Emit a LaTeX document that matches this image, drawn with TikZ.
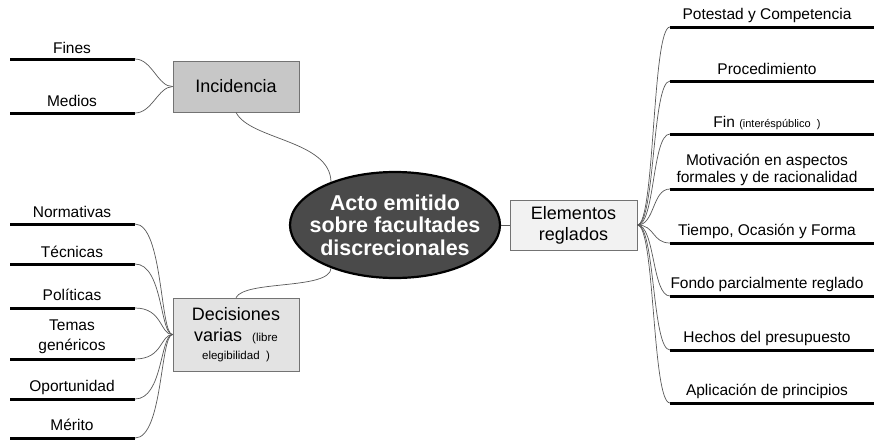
\documentclass[tikz,border=0pt]{standalone}
\usepackage{fontspec}
\setmainfont{Liberation Sans}
\usetikzlibrary{shapes.geometric}
\begin{document}
\begin{tikzpicture}[x=1pt,y=-1pt,
  leaf/.style={font=\fontsize{15.5}{18}\selectfont, anchor=base, inner sep=0pt, align=center},
  bar/.style={line width=3pt, black},
  conn/.style={draw=black!65, line width=0.7pt},
  box/.style={draw=black!55, line width=0.8pt, font=\fontsize{18}{21}\selectfont, align=center, inner sep=0pt},
]
\useasboundingbox (0,0) rectangle (874,442);
\fill[white] (0,0) rectangle (874,442);

% central ellipse
\node[ellipse, draw=black, line width=2.2pt, fill=black!71, text=white,
  minimum width=210pt, minimum height=106pt, inner xsep=-25pt, inner ysep=0pt, align=center,
  font=\bfseries\fontsize{21.5}{22.5}\selectfont] (c) at (395,225)
  {Acto emitido\\sobre facultades\\discrecionales};

% boxes
\node[box, fill=black!22, minimum width=126pt, minimum height=51pt] (inc) at (236,86.5) {Incidencia};
\node[box, fill=black!11, minimum width=126pt, minimum height=73pt] (dec) at (236,334.5)
  {Decisiones\\varias\ \ {\fontsize{11.5}{12}\selectfont (libre}\\[-3pt]{\fontsize{11.5}{12}\selectfont elegibilidad~~)}};
\node[box, fill=black!5, minimum width=127pt, minimum height=50pt] (elem) at (573.5,225) {Elementos\\reglados};

% left leaves (Incidencia)
\node[leaf] (fines) at (72,53) {Fines};
\node[leaf] (medios) at (72,106) {Medios};
\coordinate (finesL) at (10,59);  \coordinate (finesR) at (135,59);
\coordinate (mediosL) at (10,113); \coordinate (mediosR) at (135,113);

% left leaves (Decisiones)
\node[leaf] (norm) at (72,217) {Normativas};
\node[leaf] (tec) at (72,257) {Técnicas};
\node[leaf] (pol) at (72,300) {Políticas};
\node[leaf, font=\fontsize{15.5}{20}\selectfont] (temas) at (72,350) {Temas\\genéricos};
\node[leaf] (opor) at (72,391) {Oportunidad};
\node[leaf] (mer) at (72,430) {Mérito};
\coordinate (normL) at (10,224); \coordinate (normR) at (135,224);
\coordinate (tecL) at (10,264);  \coordinate (tecR) at (135,264);
\coordinate (polL) at (10,308);  \coordinate (polR) at (135,308);
\coordinate (temasL) at (10,359); \coordinate (temasR) at (135,359);
\coordinate (oporL) at (10,399); \coordinate (oporR) at (135,399);
\coordinate (merL) at (10,438);  \coordinate (merR) at (135,438);

% right leaves
\node[leaf] (pot) at (767,19) {Potestad y Competencia};
\node[leaf] (proc) at (767,74) {Procedimiento};
\node[leaf] (fin) at (767,127) {Fin {\fontsize{11}{12}\selectfont (interéspúblico~~)}};
\node[leaf, font=\fontsize{15.5}{16.5}\selectfont] (mot) at (767,182) {Motivación en aspectos\\formales y de racionalidad};
\node[leaf] (tie) at (767,235) {Tiempo,\ Ocasión y Forma};
\node[leaf] (fon) at (767,288) {Fondo parcialmente reglado};
\node[leaf] (hec) at (767,342) {Hechos del presupuesto};
\node[leaf] (apl) at (767,395) {Aplicación de principios};
\coordinate (potL) at (670,27);  \coordinate (potR) at (874,27);
\coordinate (procL) at (670,81); \coordinate (procR) at (874,81);
\coordinate (finL) at (670,134); \coordinate (finR) at (874,134);
\coordinate (motL) at (670,189); \coordinate (motR) at (874,189);
\coordinate (tieL) at (670,243); \coordinate (tieR) at (874,243);
\coordinate (fonL) at (670,296); \coordinate (fonR) at (874,296);
\coordinate (hecL) at (670,350); \coordinate (hecR) at (874,350);
\coordinate (aplL) at (670,403); \coordinate (aplR) at (874,403);

% bars
\foreach \n in {fines,medios,norm,tec,pol,temas,opor,mer,pot,proc,fin,mot,tie,fon,hec,apl}
  \draw[bar] (\n L) -- (\n R);

% connectors: Incidencia
\draw[conn] (finesR) .. controls (152,59) and (158,87) .. (inc.west);
\draw[conn] (mediosR) .. controls (152,113) and (158,87) .. (inc.west);
% connectors: Decisiones
\foreach \n in {norm,tec,pol,temas,opor,mer}
  \draw[conn] (\n R) .. controls ([xshift=28pt]\n R) and (160,335) .. (dec.west);
% connectors: Elementos
\foreach \n in {pot,proc,fin,mot,tie,fon,hec,apl}
  \draw[conn] (elem.east) .. controls (655,225) and ([xshift=-18pt]\n L) .. (\n L);

% main branches
\draw[conn] (inc.south) .. controls (250,140) and (330,140) .. (c.146);
\draw[conn] (dec.north) .. controls (245,280) and (330,290) .. (c.214);
\draw[conn] (c.east) -- (elem.west);
\end{tikzpicture}
\end{document}
